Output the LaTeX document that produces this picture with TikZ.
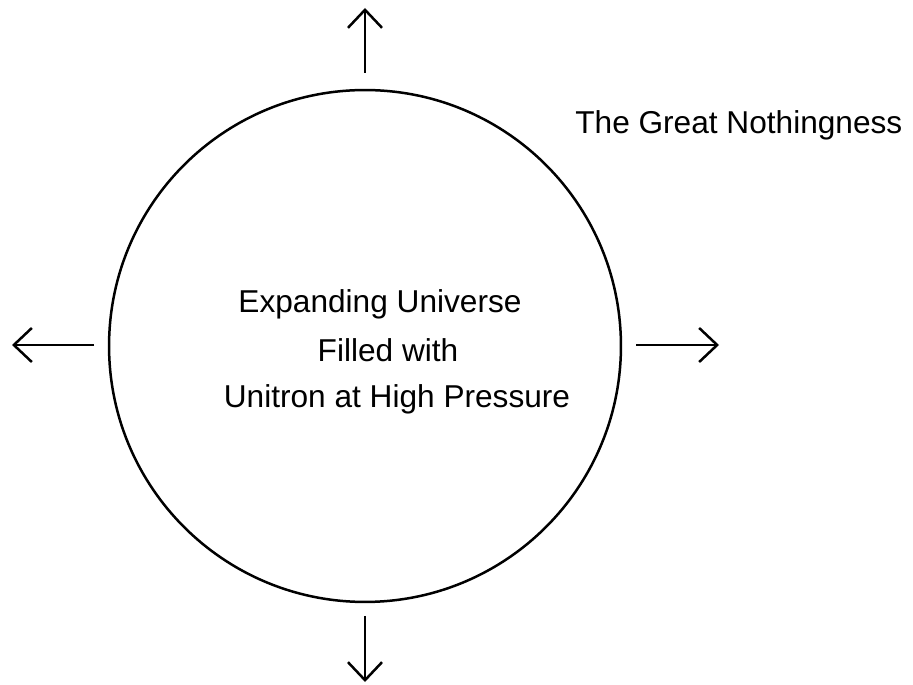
\documentclass[tikz,border=0pt]{standalone}
\usepackage{fontspec}
\setmainfont{Liberation Sans}
\usetikzlibrary{arrows.meta}
\tikzset{
  push/.style={line width=0.05cm,-{Straight Barb[length=0.36cm,width=0.68cm]}},
  caption/.style={font=\fontsize{18}{22}\selectfont,inner sep=0pt,anchor=base}
}
\begin{document}
\begin{tikzpicture}[x=0.02cm,y=-0.02cm]
  \useasboundingbox (0,0) rectangle (913,685);
  \node[draw,circle,line width=0.05cm,minimum size=10.24cm,inner sep=0pt] (univ) at (365,346) {};
  \node[caption] (l1) at (380,313) {Expanding Universe};
  \node[caption] (l2) at (388,362) {Filled with};
  \node[caption] (l3) at (397,408) {Unitron at High Pressure};
  \node[caption,anchor=base west] (void) at (575,134) {The Great Nothingness};
  % outward arrows
  \coordinate (nt) at (365,73);  \coordinate (nh) at (365,8);
  \coordinate (wt) at (94,345);  \coordinate (wh) at (12,345);
  \coordinate (et) at (636,345); \coordinate (eh) at (719,345);
  \coordinate (st) at (365,616); \coordinate (sh) at (365,682);
  \draw[push] (nt) -- (nh);
  \draw[push] (wt) -- (wh);
  \draw[push] (et) -- (eh);
  \draw[push] (st) -- (sh);
\end{tikzpicture}
\end{document}
